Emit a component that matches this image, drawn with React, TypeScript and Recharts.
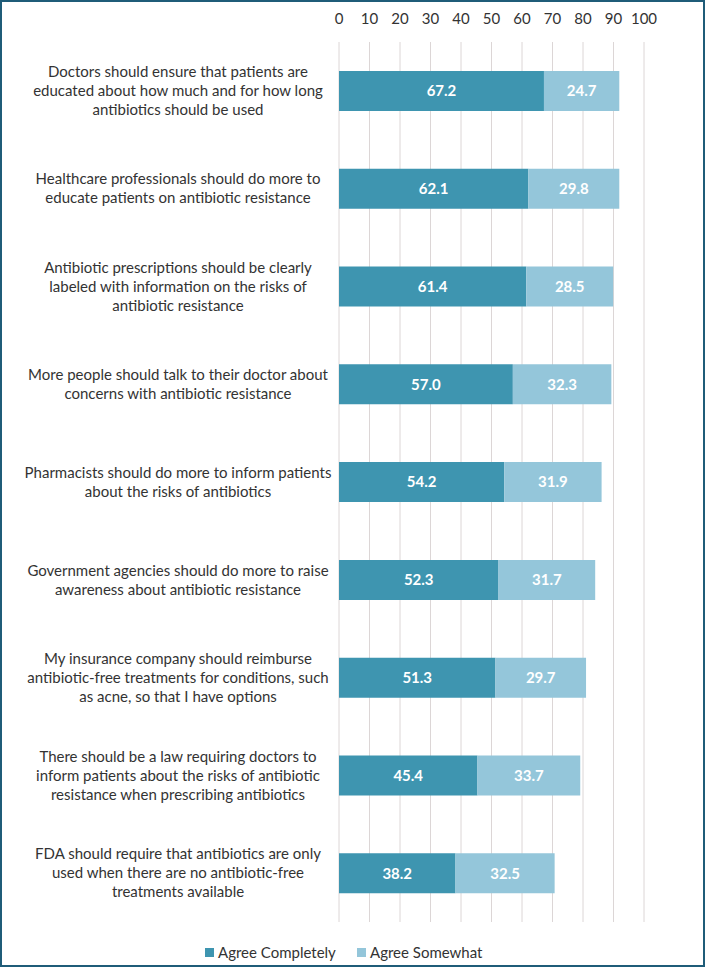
import React from 'react';
import { BarChart, Bar, XAxis, YAxis, CartesianGrid, LabelList, Legend } from 'recharts';

const categories: string[] = [
  'Doctors should ensure that patients are\neducated about how much and for how long\nantibiotics should be used',
  'Healthcare professionals should do more to\neducate patients on antibiotic resistance',
  'Antibiotic prescriptions should be clearly\nlabeled with information on the risks of\nantibiotic resistance',
  'More people should talk to their doctor about\nconcerns with antibiotic resistance',
  'Pharmacists should do more to inform patients\nabout the risks of antibiotics',
  'Government agencies should do more to raise\nawareness about antibiotic resistance',
  'My insurance company should reimburse\nantibiotic-free treatments for conditions, such\nas acne, so that I have options',
  'There should be a law requiring doctors to\ninform patients about the risks of antibiotic\nresistance when prescribing antibiotics',
  'FDA should require that antibiotics are only\nused when there are no antibiotic-free\ntreatments available',
];
const agreeCompletely: number[] = [67.2, 62.1, 61.4, 57.0, 54.2, 52.3, 51.3, 45.4, 38.2];
const agreeSomewhat: number[] = [24.7, 29.8, 28.5, 32.3, 31.9, 31.7, 29.7, 33.7, 32.5];
const xTicks: number[] = [0, 10, 20, 30, 40, 50, 60, 70, 80, 90, 100];
const seriesNames: string[] = ['Agree Completely', 'Agree Somewhat'];

const data = categories.map((c, i) => ({
  category: c,
  completely: agreeCompletely[i],
  somewhat: agreeSomewhat[i],
}));

const DARK = '#3e95b0';
const LIGHT = '#94c6da';
const FONT = 'Lato, "Open Sans", sans-serif';

const CategoryTick = (props: any) => {
  const { y, payload } = props;
  const lines = String(payload.value).split('\n');
  const lh = 19;
  const start = -((lines.length - 1) * lh) / 2;
  return (
    <text x={178} y={y} textAnchor="middle" fontFamily={FONT} fontSize={15} fill="#333">
      {lines.map((l, i) => (
        <tspan key={i} x={178} y={y + start + i * lh} dy="0.35em">{l}</tspan>
      ))}
    </text>
  );
};

const LegendContent = () => (
  <div style={{ position: 'relative', height: 20, fontFamily: FONT, fontSize: 15, color: '#333' }}>
    <div style={{ position: 'absolute', left: 205, top: 0, height: 20, display: 'flex', alignItems: 'center' }}>
      <span style={{ display: 'inline-block', width: 9, height: 9, background: DARK, marginRight: 4 }} />
      <span>{seriesNames[0]}</span>
    </div>
    <div style={{ position: 'absolute', left: 357, top: 0, height: 20, display: 'flex', alignItems: 'center' }}>
      <span style={{ display: 'inline-block', width: 9, height: 9, background: LIGHT, marginRight: 4 }} />
      <span>{seriesNames[1]}</span>
    </div>
  </div>
);

const fmt = (v: any) => Number(v).toFixed(1);

export default function App() {
  return (
    <div style={{ position: 'absolute', left: 0, top: 0, width: 705, height: 967, background: '#fff' }}>
      <BarChart
        width={705}
        height={967}
        data={data}
        layout="vertical"
        margin={{ top: 12, right: 61, bottom: 25, left: 0 }}
      >
        <CartesianGrid horizontal={false} vertical={true} stroke="#dcd6d6" />
        <XAxis
          type="number"
          orientation="top"
          domain={[0, 100]}
          ticks={xTicks}
          axisLine={false}
          tickLine={false}
          height={30}
          tick={{ fontFamily: FONT, fontSize: 15, fill: '#333', dy: -10 }}
          interval={0}
        />
        <YAxis
          type="category"
          dataKey="category"
          width={339}
          axisLine={false}
          tickLine={false}
          tick={<CategoryTick />}
          interval={0}
        />
        <Legend
          content={<LegendContent />}
          wrapperStyle={{ position: 'absolute', top: 942, left: 0, width: 705, height: 20 }}
        />
        <Bar dataKey="completely" stackId="a" fill={DARK} barSize={40} isAnimationActive={false} name={seriesNames[0]}>
          <LabelList dataKey="completely" position="center" formatter={fmt} fill="#fff" fontFamily={FONT} fontSize={15} fontWeight="bold" />
        </Bar>
        <Bar dataKey="somewhat" stackId="a" fill={LIGHT} barSize={40} isAnimationActive={false} name={seriesNames[1]}>
          <LabelList dataKey="somewhat" position="center" formatter={fmt} fill="#fff" fontFamily={FONT} fontSize={15} fontWeight="bold" />
        </Bar>
      </BarChart>
      <div style={{ position: 'absolute', left: 0, top: 0, width: 705, height: 967, boxSizing: 'border-box', border: '2px solid #1f5c78', pointerEvents: 'none' }} />
    </div>
  );
}
